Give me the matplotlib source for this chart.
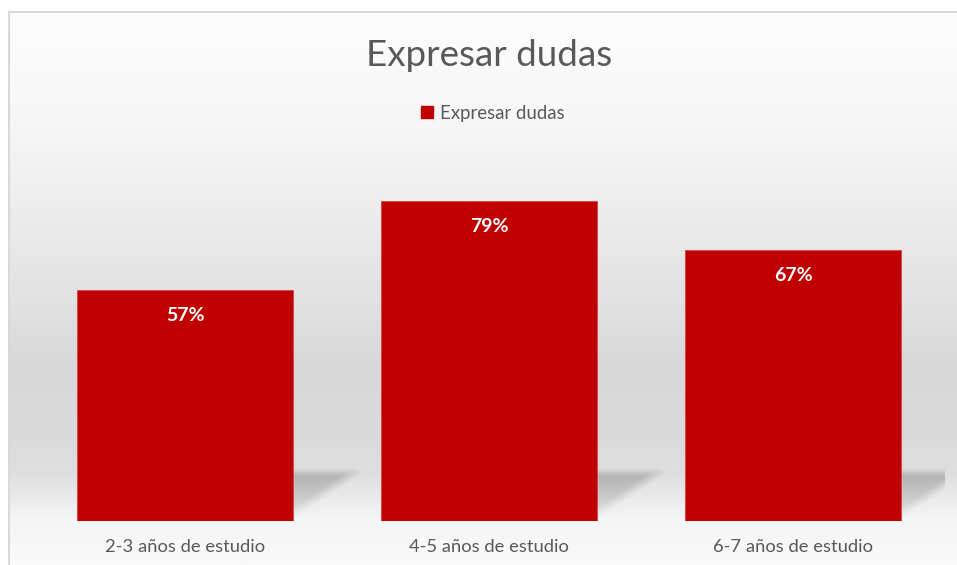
import matplotlib
matplotlib.use('Agg')
import matplotlib.pyplot as plt
import numpy as np
from matplotlib.patches import Polygon, Rectangle

categories = ['2-3 años de estudio', '4-5 años de estudio', '6-7 años de estudio']
values = [57, 79, 67]
value_labels = ['57%', '79%', '67%']
series_name = 'Expresar dudas'
title = 'Expresar dudas'

BAR_COLOR = '#C00000'
TEXT_COLOR = '#595959'
FONT = ['Lato', 'DejaVu Sans']

W, H = 957, 565
fig = plt.figure(figsize=(W / 100, H / 100), dpi=100)
fig.patch.set_facecolor('white')

# background axes in pixel units (origin bottom-left)
bg = fig.add_axes([0, 0, 1, 1], zorder=0)
bg.set_xlim(0, W)
bg.set_ylim(0, H)
bg.axis('off')

# vertical gradient of the chart area (stops given as y from top, gray level)
stops_y = np.array([12, 120, 200, 300, 370, 440, 475, 500, 520, 565])
stops_v = np.array([253, 247, 238, 226, 216, 219, 223, 236, 245, 250]) / 255
ys = np.arange(12, H + 1)
grey = np.interp(ys, stops_y, stops_v)
img = np.repeat(grey[:, None], 2, axis=1)
img = np.dstack([img, img, img])
bg.imshow(img, extent=[9, W, H - ys[-1], H - 12], origin='upper', aspect='auto',
          interpolation='bilinear', zorder=0)
bg.add_patch(Rectangle((9, -5), W, H - 12 + 5, fill=False, edgecolor='#d9d9d9',
                       linewidth=1.5, zorder=1))

# main axes
ax = fig.add_axes([33 / W, 44 / H, 912 / W, 381 / H], zorder=2)
ax.patch.set_alpha(0)
x = np.arange(len(categories))
bars = ax.bar(x, values, width=0.71, color=BAR_COLOR, edgecolor='#d84040',
              linewidth=0.6, zorder=3)
ax.set_xlim(-0.5, len(categories) - 0.5)
ax.set_ylim(0, 94.2)
for s in ax.spines.values():
    s.set_visible(False)
ax.set_yticks([])
ax.set_xticks(x)
ax.set_xticklabels(categories, fontsize=13.2, color=TEXT_COLOR, family=FONT)
ax.tick_params(axis='x', length=0, pad=13)

for b, lab in zip(bars, value_labels):
    top = b.get_height()
    ax.annotate(lab, (b.get_x() + b.get_width() / 2, top), xytext=(0, -25),
                textcoords='offset pixels', ha='center', va='center',
                color='white', fontsize=14, fontweight='bold', family=FONT, zorder=4)

# soft perspective shadows behind the bars, clipped at the plot area's right edge
x_right = ax.transAxes.transform((1, 0))[0]
n = 80
ramp_y = np.linspace(0, 1, n)
alpha = np.clip(ramp_y / 0.15, 0, 1) * (1 - ramp_y) ** 0.7 * 0.8
ramp_x = np.linspace(0, 1, n)
for b in bars:
    (x0, y0), (x1, _) = ax.transData.transform([(b.get_x(), 0), (b.get_x() + b.get_width(), 0)])
    dx, dy = 78, 53
    if x1 + dx > x_right:
        verts = [(x0, y0), (x1, y0), (x_right, y0 + (x_right - x1) / dx * dy),
                 (x_right, y0 + dy), (x0 + dx, y0 + dy)]
    else:
        verts = [(x0, y0), (x1, y0), (x1 + dx, y0 + dy), (x0 + dx, y0 + dy)]
    poly = Polygon(verts, closed=True, facecolor='none', edgecolor='none')
    bg.add_patch(poly)
    # fade towards the slanted right edge
    gx = x0 + ramp_x * (x1 + dx - x0)
    gy = y0 + dy * (1 - ramp_y)
    edge_x = x1 + (gy - y0) / dy * dx
    dist = edge_x[:, None] - gx[None, :]
    edge_fade = np.clip(dist / 18, 0, 1)
    rgba = np.zeros((n, n, 4))
    rgba[..., :3] = 165 / 255
    rgba[..., 3] = alpha[:, None] * edge_fade
    im = bg.imshow(rgba, extent=[x0, x1 + dx, y0, y0 + dy], origin='upper',
                   aspect='auto', interpolation='bilinear', zorder=1)
    im.set_clip_path(poly)

bg.set_xlim(0, W)
bg.set_ylim(0, H)

fig.text(489 / W, 1 - 56 / H, title, ha='center', va='center', fontsize=26.5,
         color=TEXT_COLOR, family=FONT)

handle = Rectangle((0, 0), 1, 1, color=BAR_COLOR)
leg = fig.legend([handle], [series_name], loc='center', bbox_to_anchor=(493 / W, 1 - 113 / H),
                 frameon=False, handlelength=0.65, handleheight=0.65, handletextpad=0.4,
                 prop={'family': FONT, 'size': 13.4})
for t in leg.get_texts():
    t.set_color(TEXT_COLOR)

fig.savefig('out.png', dpi=100)
